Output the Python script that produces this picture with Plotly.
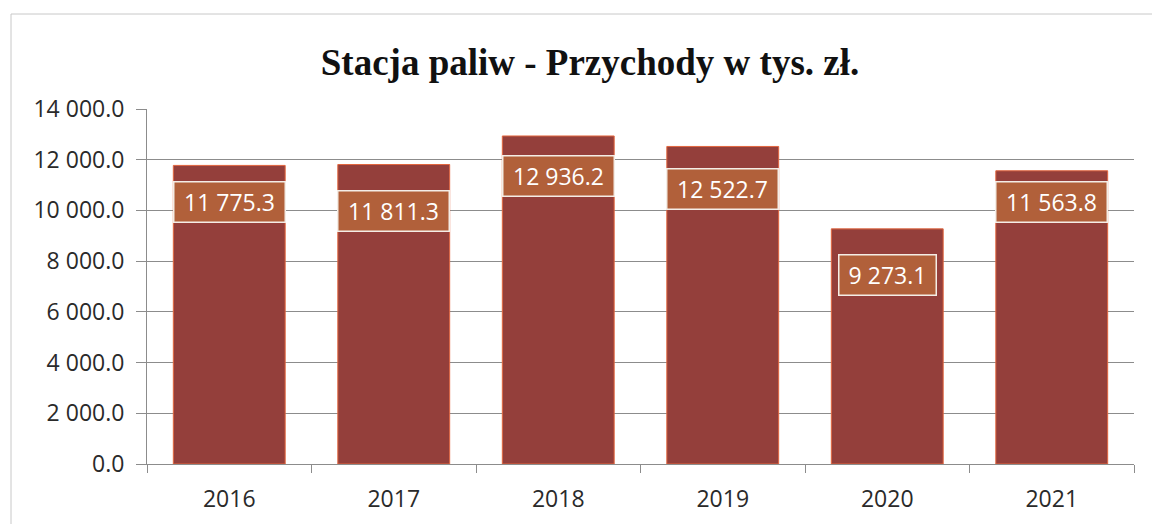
import plotly.graph_objects as go

years = ["2016", "2017", "2018", "2019", "2020", "2021"]
revenue = [11775.3, 11811.3, 12936.2, 12522.7, 9273.1, 11563.8]
y_ticks = [0, 2000, 4000, 6000, 8000, 10000, 12000, 14000]
title_text = "Stacja paliw - Przychody w tys. zł."

# label vertical offsets (px below bar top), as in the original layout
label_offsets = [37, 46, 40, 43, 46, 31]

FONT = "Open Sans, sans-serif"


def fmt(v):
    s = f"{v:,.1f}"
    return s.replace(",", " ")


fig = go.Figure()
fig.add_trace(go.Bar(
    x=years, y=revenue,
    marker=dict(color="#943F3B", line=dict(color="#E2663F", width=1)),
    width=0.68,
    hoverinfo="x+y",
))

for i, (v, off) in enumerate(zip(revenue, label_offsets)):
    txt = fmt(v)
    fig.add_annotation(
        x=i, y=v, yshift=-off, xref="x", yref="y",
        text=txt, showarrow=False,
        font=dict(family=FONT, size=23, color="white"),
        bgcolor="#B1603A", bordercolor="#F4EDE6", borderwidth=1.5, borderpad=5,
        width=100 if len(txt) >= 8 else 86, height=29, align="center",
        xanchor="center", yanchor="middle",
    )

fig.update_layout(
    width=1152, height=524,
    margin=dict(l=147, r=18, t=109, b=60, autoexpand=False),
    paper_bgcolor="white", plot_bgcolor="white",
    showlegend=False,
    title=dict(
        text=f"<b>{title_text}</b>",
        font=dict(family="Liberation Serif, Times New Roman, serif", size=37, color="#111111"),
        x=590 / 1152, xref="container", xanchor="center",
        y=1 - 62 / 524, yref="container", yanchor="middle",
    ),
    font=dict(family=FONT, color="#222222"),
)

fig.update_yaxes(
    range=[0, 14000], tickvals=y_ticks, autorange=False,
    ticktext=[fmt(t) for t in y_ticks],
    showgrid=True, gridcolor="#8C8C8C", gridwidth=1,
    showline=True, linecolor="#8C8C8C", linewidth=1,
    ticks="outside", ticklen=10, tickcolor="#8C8C8C", ticklabelstandoff=7,
    tickfont=dict(family=FONT, size=23, color="#2A2A2A"),
    zeroline=False, fixedrange=True, automargin=False,
)
fig.update_xaxes(
    type="category", range=[-0.5, 5.5], autorange=False,
    categoryorder="array", categoryarray=years,
    showline=True, linecolor="#8C8C8C", linewidth=1,
    ticks="outside", ticklen=8, tickcolor="#8C8C8C", tickson="boundaries",
    ticklabelstandoff=14,
    tickfont=dict(family=FONT, size=23, color="#2A2A2A"),
    tickangle=0, showgrid=False, fixedrange=True, automargin=False,
)

# outer chart-area border
fig.add_shape(
    type="rect", xref="paper", yref="paper",
    x0=(11 - 147) / 987, x1=1.2, y0=-0.4, y1=(464 - 14) / 355,
    line=dict(color="#C8C8C8", width=1), fillcolor="rgba(0,0,0,0)", layer="below",
)

fig.write_html(
    "out.html",
    config={"displayModeBar": False},
    post_script="document.body.style.margin='0';",
)
